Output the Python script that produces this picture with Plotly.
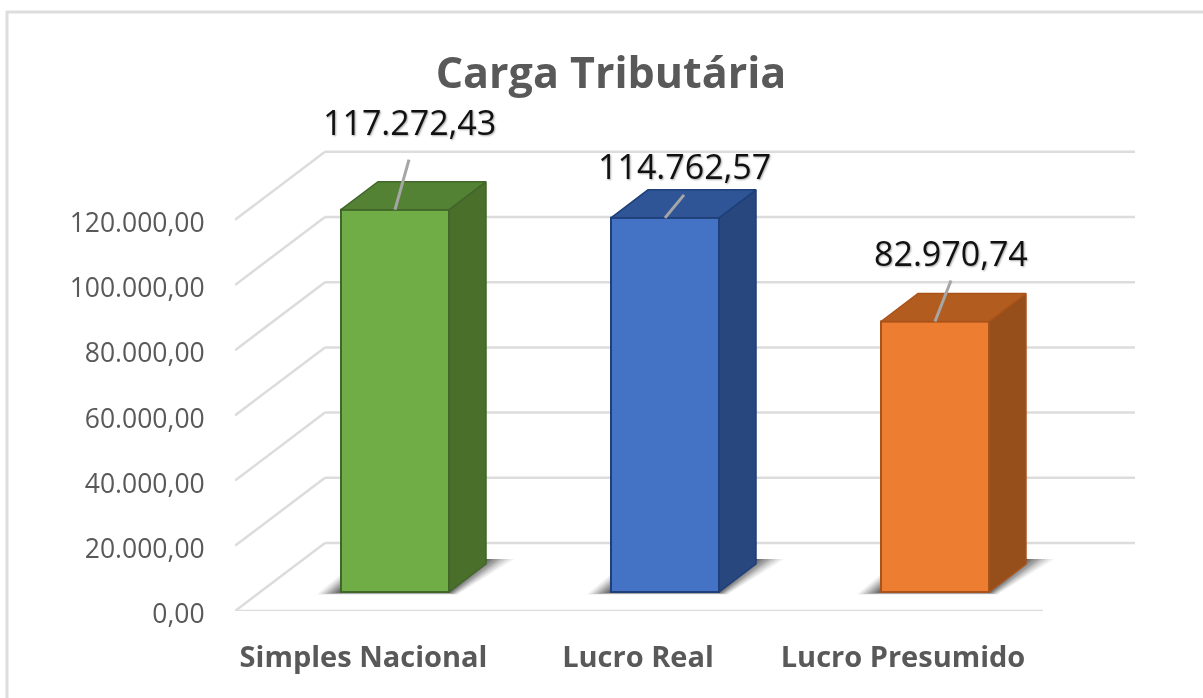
import plotly.graph_objects as go

categories = ["Simples Nacional", "Lucro Real", "Lucro Presumido"]
values = [117272.43, 114762.57, 82970.74]
value_labels = ["117.272,43", "114.762,57", "82.970,74"]
tick_values = [0, 20000, 40000, 60000, 80000, 100000, 120000]
tick_labels = ["0,00", "20.000,00", "40.000,00", "60.000,00", "80.000,00", "100.000,00", "120.000,00"]

front_col = ["#70AD47", "#4472C4", "#ED7D31"]
side_col = ["#4A6F2B", "#28477F", "#964F1B"]
top_col = ["#548235", "#2F5597", "#B35C20"]
edge_col = ["#41662A", "#1F3F78", "#A9531A"]

W, H = 1203, 698
L_PX, R_PX, T_PX, B_PX = 235, 1135, 140, 611
CAT_PX = 270
PX_PER_20K = 65.2
X_U = 1 / CAT_PX                 # x units per pixel
Y_U = 20000 / PX_PER_20K         # value units per pixel
x_range = [-0.5, -0.5 + (R_PX - L_PX) * X_U]
y_range = [0, (B_PX - T_PX) * Y_U]
WALL_DX, WALL_DY = 90 * X_U, 68 * Y_U
FRONT_DX, FRONT_DY = 25 * X_U, 19 * Y_U
BAR_W = 108 * X_U
DEPTH_DX, DEPTH_DY = 37 * X_U, 28 * Y_U
x_end = 2.5 - 2 * X_U
GRID = "#DCDCDC"

fig = go.Figure()

# wall + floor lines (primary subplot, under the bars)
def line(xs, ys, color=GRID, width=2.5, axes=("x", "y")):
    fig.add_trace(go.Scatter(x=xs, y=ys, mode="lines", line=dict(color=color, width=width),
                             hoverinfo="skip", showlegend=False, xaxis=axes[0], yaxis=axes[1], cliponaxis=False))

for v in tick_values:
    line([x_range[0], x_range[0] + WALL_DX], [v, v + WALL_DY])
    line([x_range[0] + WALL_DX, x_range[1]], [v + WALL_DY, v + WALL_DY])
line([-0.5, x_end], [0, 0])

# floor shadows: nested, increasingly dark polygons
shadow_layers = [(24, 28, 2.5, 0.07), (21, 24, 2.2, 0.09), (18, 20, 2, 0.11), (15, 16, 1.7, 0.13),
                 (12, 13, 1.5, 0.15), (9, 9, 1.2, 0.17), (6, 6, 1, 0.19), (3, 3, 0.5, 0.21)]
for i in range(len(values)):
    xl = i + FRONT_DX - BAR_W / 2
    xr = i + FRONT_DX + BAR_W / 2
    y0 = FRONT_DY
    top = y0 + DEPTH_DY + 5 * Y_U
    for g_l, g_r, down, alpha in shadow_layers:
        gl, gr, d = g_l * X_U, g_r * X_U, down * Y_U
        xs = [xl - gl, xr + gr * 0.3, xr + DEPTH_DX + gr, xl - gl + DEPTH_DX + 5 * X_U, xl - gl]
        ys = [y0 - d, y0 - d, top, top, y0 - d]
        fig.add_trace(go.Scatter(x=xs, y=ys, mode="lines", fill="toself", line=dict(width=0),
                                 fillcolor=f"rgba(40,40,40,{alpha})", hoverinfo="skip", showlegend=False))

# bars on an overlaid subplot so they sit above the grid and shadows
fig.add_trace(go.Bar(x=[i + FRONT_DX for i in range(len(values))], y=values, base=FRONT_DY, width=BAR_W,
                     marker=dict(color=front_col, line=dict(color=edge_col, width=2)),
                     xaxis="x2", yaxis="y2", showlegend=False, hoverinfo="skip"))

for i, v in enumerate(values):
    xl = i + FRONT_DX - BAR_W / 2
    xr = i + FRONT_DX + BAR_W / 2
    y0, y1 = FRONT_DY, FRONT_DY + v
    fig.add_trace(go.Scatter(x=[xr, xr + DEPTH_DX, xr + DEPTH_DX, xr, xr],
                             y=[y0, y0 + DEPTH_DY, y1 + DEPTH_DY, y1, y0], mode="lines", fill="toself",
                             fillcolor=side_col[i], line=dict(color=edge_col[i], width=1.5),
                             xaxis="x2", yaxis="y2", hoverinfo="skip", showlegend=False))
    fig.add_trace(go.Scatter(x=[xl, xl + DEPTH_DX, xr + DEPTH_DX, xr, xl],
                             y=[y1, y1 + DEPTH_DY, y1 + DEPTH_DY, y1, y1], mode="lines", fill="toself",
                             fillcolor=top_col[i], line=dict(color=edge_col[i], width=1.5),
                             xaxis="x2", yaxis="y2", hoverinfo="skip", showlegend=False, cliponaxis=False))

# leader lines and data labels
leader_px = [(14, 50), (19, 23), (16, 41)]
label_px = [(14, 88), (19, 52), (16, 69)]
annotations = []
for i, v in enumerate(values):
    xc = i + FRONT_DX
    yt = FRONT_DY + v
    dx, dy = leader_px[i]
    line([xc, xc + dx * X_U], [yt, yt + dy * Y_U], color="#A6A6A6", width=3, axes=("x2", "y2"))
    sx, sy = label_px[i]
    annotations.append(dict(x=xc, y=yt, xref="x2", yref="y2", text=value_labels[i], showarrow=False,
                            xshift=sx, yshift=sy, xanchor="center", yanchor="middle",
                            font=dict(family="Open Sans", size=34, color="#111111",
                                      shadow="1px 1px 2px rgba(0,0,0,0.35)")))

cat_label_shift_px = [-6.5, -2, -7]
dom_x = [L_PX / W, R_PX / W]
dom_y = [(H - B_PX) / H, (H - T_PX) / H]
fig.update_layout(
    width=W, height=H, margin=dict(l=0, r=0, t=0, b=0, pad=0),
    paper_bgcolor="white", plot_bgcolor="rgba(0,0,0,0)", showlegend=False,
    title=dict(text="<b>Carga Tributária</b>", x=611 / W, y=1 - 73 / H, xanchor="center", yanchor="middle",
               font=dict(family="Open Sans", size=43, color="#595959")),
    xaxis=dict(domain=dom_x, range=x_range, showgrid=False, zeroline=False, showline=False, automargin=False,
               tickmode="array", tickvals=[i + cat_label_shift_px[i] * X_U for i in range(len(categories))],
               ticktext=[f"<b>{c}</b>" for c in categories],
               ticks="outside", ticklen=20, tickcolor="rgba(0,0,0,0)",
               tickfont=dict(family="Open Sans", size=29, color="#595959")),
    yaxis=dict(domain=dom_y, range=y_range, showgrid=False, zeroline=False, showline=False, automargin=False,
               tickmode="array", tickvals=tick_values, ticktext=tick_labels,
               ticks="outside", ticklen=24, tickcolor="rgba(0,0,0,0)", ticklabelshift=3,
               tickfont=dict(family="Open Sans", size=26.5, color="#595959")),
    xaxis2=dict(domain=dom_x, range=x_range, overlaying="x", visible=False, automargin=False),
    yaxis2=dict(domain=dom_y, range=y_range, overlaying="y", visible=False, automargin=False),
    annotations=annotations,
    shapes=[dict(type="rect", xref="paper", yref="paper", x0=7 / W, x1=1.05, y0=-0.05, y1=1 - 12 / H,
                 line=dict(color="#DDDDDD", width=3), fillcolor="rgba(0,0,0,0)", layer="below")],
)
fig.write_html("out.html",
               post_script="document.body.style.margin='0';document.body.style.overflow='hidden';"
                           "document.querySelector('.plotly-graph-div').style.filter='blur(0.6px)';",
               config={"displayModeBar": False})
